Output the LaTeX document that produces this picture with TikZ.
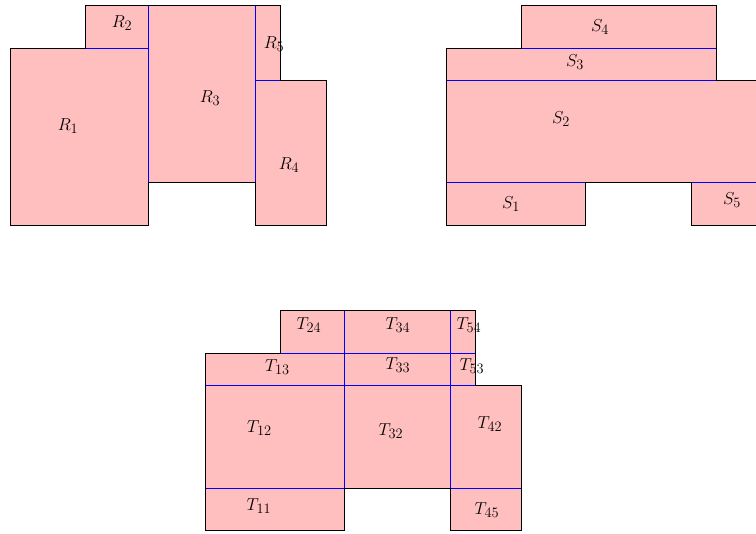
\documentclass[tikz,border=0pt]{standalone}
\usepackage{tikz}
\tikzset{
  piece/.style={fill=red!25, draw=blue, line width=0.8pt},
  outline/.style={draw=black, line width=0.9pt, line join=miter},
  lab/.style={inner sep=0pt, font=\fontsize{19}{22}\selectfont},
}
\begin{document}
\begin{tikzpicture}[x=1pt,y=-1pt]
\useasboundingbox (0,0) rectangle (756,534);
\clip (0,0) rectangle (756,534);

% ---- R partition ----
\path[piece] (10.7,48.3) rectangle (148.7,225.7);
\path[piece] (85.3,5.7) rectangle (148.7,48.3);
\path[piece] (148.7,5.7) rectangle (255.3,182.7);
\path[piece] (255.3,5.7) rectangle (280,80);
\path[piece] (255.3,80) rectangle (326,225.7);
\draw[outline] (10.7,48.3) -- (85.3,48.3) -- (85.3,5.7) -- (280,5.7) -- (280,80)
  -- (326,80) -- (326,225.7) -- (255.3,225.7) -- (255.3,182.7) -- (148.7,182.7)
  -- (148.7,225.7) -- (10.7,225.7) -- cycle;
\node[lab] (r1) at (68,126) {$R_1$};
\node[lab] (r2) at (122,23) {$R_2$};
\node[lab] (r3) at (210,98) {$R_3$};
\node[lab] (r4) at (289,165) {$R_4$};
\node[lab] (r5) at (274,44) {$R_5$};

% ---- S partition ----
\path[piece] (446.7,182.7) rectangle (585.3,225.7);
\path[piece] (446.7,80) rectangle (780,182.7);
\path[piece] (446.7,48.3) rectangle (716.3,80);
\path[piece] (521.3,5.7) rectangle (716.3,48.3);
\path[piece] (691.7,182.7) rectangle (780,225.7);
\draw[outline] (446.7,48.3) -- (521.3,48.3) -- (521.3,5.7) -- (716.3,5.7) -- (716.3,80)
  -- (780,80) -- (780,225.7) -- (691.7,225.7) -- (691.7,182.7) -- (585.3,182.7)
  -- (585.3,225.7) -- (446.7,225.7) -- cycle;
\node[lab] (s1) at (511,204) {$S_1$};
\node[lab] (s2) at (561,119) {$S_2$};
\node[lab] (s3) at (575,62) {$S_3$};
\node[lab] (s4) at (600,27) {$S_4$};
\node[lab] (s5) at (732,200) {$S_5$};

% ---- T partition ----
\path[piece] (280.3,310.7) rectangle (344,353);
\path[piece] (344,310.7) rectangle (450.3,353);
\path[piece] (450.3,310.7) rectangle (475,353);
\path[piece] (205.7,353) rectangle (344,385.3);
\path[piece] (344,353) rectangle (450.3,385.3);
\path[piece] (450.3,353) rectangle (475,385.3);
\path[piece] (205.7,385.3) rectangle (344,488.3);
\path[piece] (344,385.3) rectangle (450.3,488.3);
\path[piece] (450.3,385.3) rectangle (521,488.3);
\path[piece] (205.7,488.3) rectangle (344,530.7);
\path[piece] (450.3,488.3) rectangle (521,530.7);
\draw[outline] (205.7,353) -- (280.3,353) -- (280.3,310.7) -- (475,310.7) -- (475,385.3)
  -- (521,385.3) -- (521,530.7) -- (450.3,530.7) -- (450.3,488.3) -- (344,488.3)
  -- (344,530.7) -- (205.7,530.7) -- cycle;
\node[lab] (t24) at (309,325) {$T_{24}$};
\node[lab] (t34) at (398,325) {$T_{34}$};
\node[lab] (t54) at (469,325) {$T_{54}$};
\node[lab] (t13) at (277.5,367) {$T_{13}$};
\node[lab] (t33) at (398,365) {$T_{33}$};
\node[lab] (t53) at (472,366) {$T_{53}$};
\node[lab] (t12) at (259.5,428) {$T_{12}$};
\node[lab] (t32) at (391,431) {$T_{32}$};
\node[lab] (t42) at (490,424) {$T_{42}$};
\node[lab] (t11) at (259,506) {$T_{11}$};
\node[lab] (t45) at (487,510) {$T_{45}$};
\end{tikzpicture}
\end{document}
